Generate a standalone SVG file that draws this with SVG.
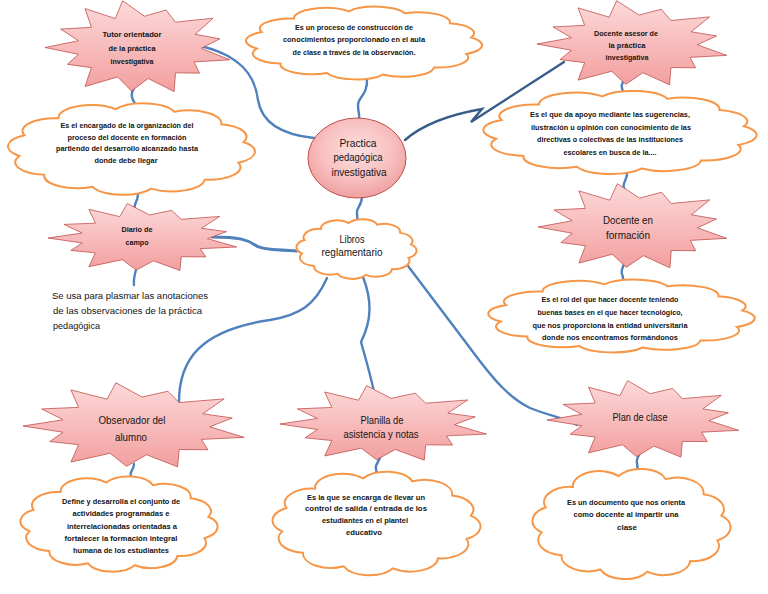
<svg xmlns="http://www.w3.org/2000/svg" xmlns:xlink="http://www.w3.org/1999/xlink" width="768" height="594" viewBox="0 0 768 594">
<style>
.sm{font-family:"Liberation Sans",Arial,sans-serif;font-size:7.6px;font-weight:bold;fill:#141414;text-anchor:middle}
.md{font-family:"Liberation Sans",Arial,sans-serif;font-size:10px;fill:#141414;text-anchor:middle}
.lf{font-family:"Liberation Sans",Arial,sans-serif;font-size:9.6px;fill:#141414}
.con{fill:none;stroke:#4f81bd;stroke-width:2.4;stroke-linecap:round}
.dark{stroke:#385d8a}
</style>
<defs>
<linearGradient id="starGrad" x1="0" y1="0" x2="0" y2="1">
<stop offset="0" stop-color="#fcd9d9"/>
<stop offset="0.5" stop-color="#f8bcbc"/>
<stop offset="1" stop-color="#f29f9f"/>
</linearGradient>
<radialGradient id="ellGrad" cx="0.5" cy="0.4" r="0.6">
<stop offset="0" stop-color="#fde0e0"/>
<stop offset="0.6" stop-color="#f8c0c0"/>
<stop offset="1" stop-color="#efa0a0"/>
</radialGradient>
<symbol id="star" viewBox="0 0 100 100" preserveAspectRatio="none" style="overflow:visible">
<polygon points="41.3,0.8 52.9,17.1 64.4,10.5 69.4,23.3 89.4,19.2 79.9,36.1 93,40.9 83,50.9 98.3,62.9 79.3,65.2 82.2,77 69.4,76.7 68.7,96.4 54.9,82.6 46,95.8 38.7,81 21.3,91 24.7,71.2 11.9,67.7 17.8,57.1 0,50 17.8,42.9 8.3,30.6 24.7,28.8 21.3,9 37.4,19.5" fill="url(#starGrad)" stroke="#c0504d" stroke-width="0.8" vector-effect="non-scaling-stroke"/>
</symbol>
<symbol id="cloud" viewBox="0 0 100 100" preserveAspectRatio="none" style="overflow:visible">
<path d="M7.7,36 A13,13 0 0 1 21.1,18.6 A13,13 0 0 1 43.7,9.4 A13,13 0 0 1 66.9,12 A13,13 0 0 1 85.5,24.8 A13,13 0 0 1 94.3,42.9 A13,13 0 0 1 92.3,64 A13,13 0 0 1 78.9,81.4 A13,13 0 0 1 57.8,90.4 A13,13 0 0 1 34.6,88.5 A13,13 0 0 1 15.5,76.4 A13,13 0 0 1 5.7,57.1 A13,13 0 0 1 7.7,36 Z" fill="#ffffff" stroke="#f79646" stroke-width="2" vector-effect="non-scaling-stroke"/>
</symbol>
</defs>
<rect width="768" height="594" fill="#ffffff"/>

<g id="connectors">
<path class="con" d="M200,46 C240,55 255,75 258,100 C262,125 285,135 314,138"/>
<path class="con" d="M367,78 C368,95 358,97 358,105 C358,112 360,115 359,120"/>
<path class="con dark" d="M405,140 Q430,118 482,109 L471,122 L564,62"/>
<path class="con" d="M137,77 C137,88 130,90 132,97 C133,102 136,103 135,106"/>
<path class="con" d="M138,194 C138,202 133,204 135,209 C136,212 137,213 137,215"/>
<path class="con" d="M137,265 C136,272 133,277 134,285"/>
<path class="con" style="stroke-width:3" d="M212,237 C240,237 248,240 255,245 C262,250 280,250 297,251"/>
<path class="con" d="M362,196 C362,207 356,207 357,213 C357,217 358,218 357,221"/>
<path class="con" d="M327,278 C315,305 300,315 270,320 C200,330 178,360 179,405"/>
<path class="con" d="M363,277 C372,300 372,320 361,342 C366,360 372,380 375,397"/>
<path class="con" d="M405,262 L470,348 C495,382 510,398 530,408 C550,416 565,418 577,425"/>
<path class="con" d="M627,69 C627,80 620,82 622,88 C623,93 625,94 624,98"/>
<path class="con" d="M627,174 C627,180 622,183 624,188 C625,191 626,192 626,195"/>
<path class="con" d="M626,255 C626,265 620,268 622,274 C623,278 624,279 623,283"/>
<path class="con" d="M134,464 C134,470 129,472 131,476 C132,479 133,480 132,482"/>
<path class="con" d="M381,452 C381,462 374,464 376,469 C377,472 377,473 376,476"/>
<path class="con" d="M642,443 C642,455 635,458 637,463 C638,467 638,468 637,472"/>
</g>

<g id="tutor">
<use xlink:href="#star" x="45" y="0" width="188" height="95"/>
<text class="sm" x="132" y="37" textLength="59" lengthAdjust="spacingAndGlyphs">Tutor orientador</text>
<text class="sm" x="132" y="51" textLength="47" lengthAdjust="spacingAndGlyphs">de la práctica</text>
<text class="sm" x="132" y="64" textLength="43" lengthAdjust="spacingAndGlyphs">investigativa</text>
</g>

<g id="cloud-tutor">
<use xlink:href="#cloud" x="5" y="100" width="253" height="98"/>
<text class="sm" x="127" y="128" textLength="133" lengthAdjust="spacingAndGlyphs">Es el encargado de la organización del</text>
<text class="sm" x="127" y="140" textLength="119" lengthAdjust="spacingAndGlyphs">proceso del docente en formación</text>
<text class="sm" x="127" y="151" textLength="142" lengthAdjust="spacingAndGlyphs">partiendo del desarrollo alcanzado hasta</text>
<text class="sm" x="126" y="163" textLength="63" lengthAdjust="spacingAndGlyphs">donde debe llegar</text>
</g>

<g id="cloud-top">
<use xlink:href="#cloud" x="243" y="4" width="242" height="78"/>
<text class="sm" x="354" y="30" textLength="118" lengthAdjust="spacingAndGlyphs">Es un proceso de construcción de</text>
<text class="sm" x="354" y="42" textLength="142" lengthAdjust="spacingAndGlyphs">conocimientos proporcionado en el aula</text>
<text class="sm" x="354" y="55" textLength="123" lengthAdjust="spacingAndGlyphs">de clase a través de la observación.</text>
</g>

<g id="center">
<ellipse cx="357" cy="158" rx="49" ry="40" fill="url(#ellGrad)" stroke="#c0504d" stroke-width="1"/>
<text class="md" x="358" y="147" textLength="37" lengthAdjust="spacingAndGlyphs">Practica</text>
<text class="md" x="358" y="161" textLength="49" lengthAdjust="spacingAndGlyphs">pedagógica</text>
<text class="md" x="359" y="176" textLength="55" lengthAdjust="spacingAndGlyphs">investigativa</text>
</g>

<g id="asesor">
<use xlink:href="#star" x="537" y="0" width="193" height="88"/>
<text class="sm" x="626" y="36" textLength="64" lengthAdjust="spacingAndGlyphs">Docente asesor de</text>
<text class="sm" x="627" y="48" textLength="37" lengthAdjust="spacingAndGlyphs">la práctica</text>
<text class="sm" x="627" y="60" textLength="43" lengthAdjust="spacingAndGlyphs">investigativa</text>
</g>

<g id="cloud-asesor">
<use xlink:href="#cloud" x="480" y="88" width="280" height="89"/>
<text class="sm" x="610" y="117" textLength="160" lengthAdjust="spacingAndGlyphs">Es el que da apoyo mediante las sugerencias,</text>
<text class="sm" x="611" y="130" textLength="160" lengthAdjust="spacingAndGlyphs">ilustración u opinión con conocimiento de las</text>
<text class="sm" x="610" y="142" textLength="146" lengthAdjust="spacingAndGlyphs">directivas o colectivas de las instituciones</text>
<text class="sm" x="610" y="155" textLength="93" lengthAdjust="spacingAndGlyphs">escolares en busca de la....</text>
</g>

<g id="formacion">
<use xlink:href="#star" x="538" y="183" width="192" height="88"/>
<text class="md" x="628" y="224" textLength="50" lengthAdjust="spacingAndGlyphs">Docente en</text>
<text class="md" x="628" y="239" textLength="44" lengthAdjust="spacingAndGlyphs">formación</text>
</g>

<g id="cloud-formacion">
<use xlink:href="#cloud" x="485" y="277" width="273" height="78"/>
<text class="sm" x="610" y="302" textLength="137" lengthAdjust="spacingAndGlyphs">Es el rol del que hacer docente teniendo</text>
<text class="sm" x="610" y="315" textLength="145" lengthAdjust="spacingAndGlyphs">buenas bases en el que hacer tecnológico,</text>
<text class="sm" x="610" y="328" textLength="155" lengthAdjust="spacingAndGlyphs">que nos proporciona la entidad universitaria</text>
<text class="sm" x="610" y="340" textLength="136" lengthAdjust="spacingAndGlyphs">donde nos encontramos formándonos</text>
</g>

<g id="diario">
<use xlink:href="#star" x="48" y="203" width="192" height="70"/>
<text class="sm" x="137" y="232" textLength="31" lengthAdjust="spacingAndGlyphs">Diario de</text>
<text class="sm" x="137" y="245" textLength="23" lengthAdjust="spacingAndGlyphs">campo</text>
</g>

<g id="diario-text">
<text class="lf" x="52" y="299" textLength="156" lengthAdjust="spacingAndGlyphs">Se usa para plasmar las anotaciones</text>
<text class="lf" x="53" y="314" textLength="149" lengthAdjust="spacingAndGlyphs">de las observaciones de la práctica</text>
<text class="lf" x="53" y="329" textLength="47" lengthAdjust="spacingAndGlyphs">pedagógica</text>
</g>

<g id="libros">
<use xlink:href="#cloud" x="295" y="217" width="123" height="64"/>
<text class="md" x="352" y="243" textLength="25" lengthAdjust="spacingAndGlyphs">Libros</text>
<text class="md" x="352" y="256" textLength="61" lengthAdjust="spacingAndGlyphs">reglamentario</text>
</g>

<g id="observador">
<use xlink:href="#star" x="23" y="382" width="225" height="88"/>
<text class="md" x="132" y="424" textLength="67" lengthAdjust="spacingAndGlyphs">Observador del</text>
<text class="md" x="131" y="441" textLength="32" lengthAdjust="spacingAndGlyphs">alumno</text>
</g>

<g id="cloud-observador">
<use xlink:href="#cloud" x="18" y="473" width="202" height="102"/>
<text class="sm" x="121" y="504" textLength="118" lengthAdjust="spacingAndGlyphs">Define y desarrolla el conjunto de</text>
<text class="sm" x="121" y="516" textLength="97" lengthAdjust="spacingAndGlyphs">actividades programadas e</text>
<text class="sm" x="122" y="529" textLength="110" lengthAdjust="spacingAndGlyphs">interrelacionadas orientadas a</text>
<text class="sm" x="121" y="541" textLength="113" lengthAdjust="spacingAndGlyphs">fortalecer la formación integral</text>
<text class="sm" x="121" y="553" textLength="96" lengthAdjust="spacingAndGlyphs">humana de los estudiantes</text>
</g>

<g id="planilla">
<use xlink:href="#star" x="280" y="385" width="210" height="78"/>
<text class="md" x="382" y="424" textLength="43" lengthAdjust="spacingAndGlyphs">Planilla de</text>
<text class="md" x="381" y="438" textLength="75" lengthAdjust="spacingAndGlyphs">asistencia y notas</text>
</g>

<g id="cloud-planilla">
<use xlink:href="#cloud" x="270" y="468" width="213" height="111"/>
<text class="sm" x="366" y="500" textLength="118" lengthAdjust="spacingAndGlyphs">Es la que se encarga de llevar un</text>
<text class="sm" x="366" y="511" textLength="122" lengthAdjust="spacingAndGlyphs">control de salida / entrada de los</text>
<text class="sm" x="365" y="523" textLength="86" lengthAdjust="spacingAndGlyphs">estudiantes en el plantel</text>
<text class="sm" x="364" y="535" textLength="36" lengthAdjust="spacingAndGlyphs">educativo</text>
</g>

<g id="plan">
<use xlink:href="#star" x="547" y="380" width="195" height="80"/>
<text class="md" x="640" y="421" textLength="55" lengthAdjust="spacingAndGlyphs">Plan de clase</text>
</g>

<g id="cloud-plan">
<use xlink:href="#cloud" x="530" y="465" width="203" height="118"/>
<text class="sm" x="626" y="505" textLength="118" lengthAdjust="spacingAndGlyphs">Es un documento que nos orienta</text>
<text class="sm" x="626" y="517" textLength="105" lengthAdjust="spacingAndGlyphs">como docente al impartir una</text>
<text class="sm" x="627" y="530" textLength="20" lengthAdjust="spacingAndGlyphs">clase</text>
</g>
</svg>
